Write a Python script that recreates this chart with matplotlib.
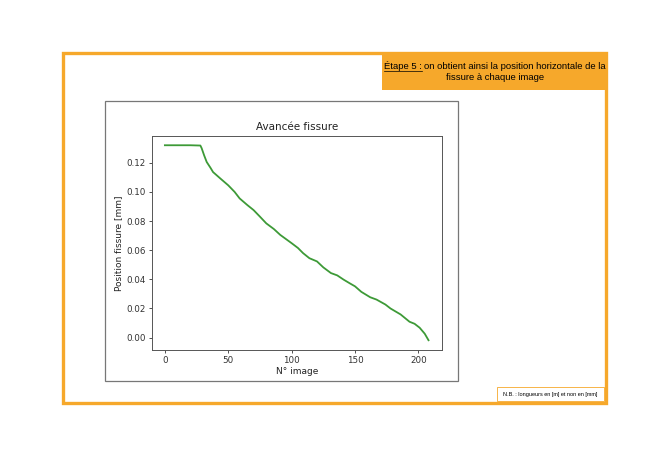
import matplotlib.pyplot as plt
from matplotlib.patches import Rectangle

# crack position
images = [0, 10, 20, 28, 29, 31, 33, 36, 38, 44, 50, 55, 59, 65, 70, 75, 80, 86, 91, 100,
          105, 109, 114, 120, 125, 131, 136, 141, 146, 150, 155, 162, 167, 174, 178, 186,
          193, 197, 201, 205, 208]
positions = [0.132, 0.132, 0.132, 0.1318, 0.130, 0.125, 0.1205, 0.1165, 0.1136, 0.109,
             0.1045, 0.100, 0.0955, 0.091, 0.0875, 0.083, 0.0784, 0.0745, 0.0705, 0.0648,
             0.0615, 0.058, 0.0545, 0.0523, 0.0482, 0.0443, 0.0427, 0.0398, 0.0372, 0.0352,
             0.0314, 0.0277, 0.0261, 0.0227, 0.020, 0.0159, 0.0109, 0.0095, 0.0068, 0.0027,
             -0.0018]

title_l1 = "on obtient ainsi la position horizontale de la"
title_step = "Étape 5 :"
title_l2 = "fissure à chaque image"
note = "N.B. : longueurs en [m] et non en [mm]"

W, H = 670, 472
orange = '#f6a82b'

fig = plt.figure(figsize=(W / 100, H / 100), dpi=100)
fig.patch.set_facecolor('white')


def box(x0, y0, x1, y1, **kw):
    # pixel coords from top-left
    r = Rectangle((x0 / W, 1 - y1 / H), (x1 - x0) / W, (y1 - y0) / H,
                  transform=fig.transFigure, **kw)
    fig.add_artist(r)
    return r


# slide frame
box(63, 53, 606, 403, fill=False, edgecolor=orange, linewidth=2.4)
box(382, 52, 607, 90, facecolor=orange, edgecolor='none')
box(497, 387, 604, 401, facecolor='white', edgecolor=orange, linewidth=0.6)
# screenshot border
box(105, 101, 458, 381, fill=False, edgecolor='#777777', linewidth=0.9)

# title in the orange box
fnt = dict(family='Liberation Sans', fontsize=6.8, color='black')
rend = fig.canvas.get_renderer()
t_step = fig.text(0, 0, title_step + " ", **fnt)
t_rest = fig.text(0, 0, title_l1, **fnt)
w1 = t_step.get_window_extent(rend).width
w2 = t_rest.get_window_extent(rend).width
x_start = 495 - (w1 + w2) / 2
t_step.set_position((x_start / W, 1 - 69 / H))
t_rest.set_position(((x_start + w1) / W, 1 - 69 / H))
w_under = fig.text(0, 0, title_step, **fnt).get_window_extent(rend).width
fig.texts[-1].remove()
fig.add_artist(plt.Line2D([x_start / W, (x_start + w_under) / W], [1 - 70.5 / H] * 2,
                          transform=fig.transFigure, color='black', linewidth=0.5))
fig.text(495 / W, 1 - 80 / H, title_l2, ha='center', **fnt)

# note
fig.text(550 / W, 1 - 394.5 / H, note, ha='center', va='center',
         family='Liberation Sans', fontsize=4.0, color='black')

# chart
ax = fig.add_axes([151.7 / W, 1 - 350 / H, 290 / W, 214.5 / H])
ax.plot(images, positions, color='#3d9a37', linewidth=1.3)
ax.set_title("Avancée fissure", fontsize=7.5, color='#222222', pad=4)
ax.set_xlabel("N° image", fontsize=6.5, color='#222222', labelpad=1.5)
ax.set_ylabel("Position fissure [mm]", fontsize=6.5, color='#222222', labelpad=2)
ax.set_xticks([0, 50, 100, 150, 200])
ax.set_yticks([0.0, 0.02, 0.04, 0.06, 0.08, 0.10, 0.12])
ax.set_yticklabels(['0.00', '0.02', '0.04', '0.06', '0.08', '0.10', '0.12'])
ax.tick_params(labelsize=6.3, length=2.5, width=0.6, colors='#333333', pad=2)
for s in ax.spines.values():
    s.set_color('#555555')
    s.set_linewidth(0.7)

plt.savefig('out.png', dpi=100)
